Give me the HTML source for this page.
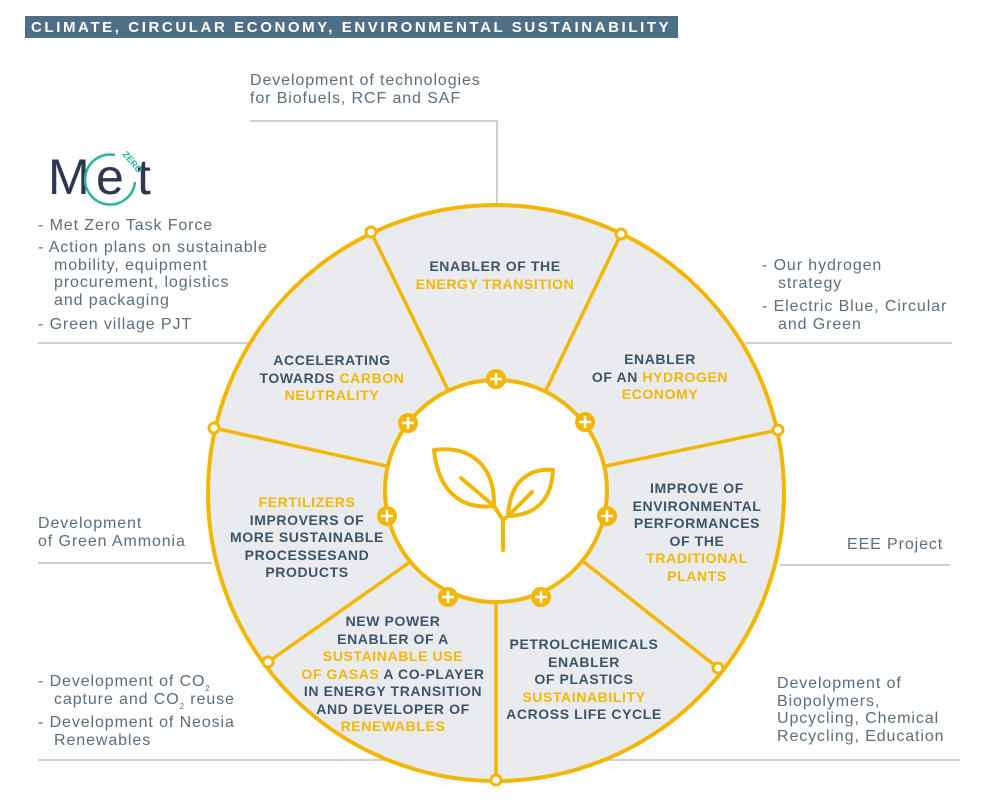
<!DOCTYPE html>
<html><head><meta charset="utf-8"><style>
body{margin:0;width:1000px;height:801px;background:#fff;overflow:hidden;position:relative;font-family:"Liberation Sans",sans-serif}
.t{position:absolute;color:#5a6e7f;font-size:16px;letter-spacing:0.9px;line-height:17.5px;white-space:nowrap}
.b{position:absolute;text-align:center;font-weight:bold;font-size:14px;letter-spacing:0.6px;line-height:17.5px;color:#3d5468;white-space:nowrap}
.y{color:#f2b705}
.s{font-size:8px;position:relative;top:5px;line-height:0}
</style></head><body>
<svg width="1000" height="801" style="position:absolute;left:0;top:0">
<rect x="25" y="16" width="653" height="22" fill="#4f6f87"/>
<g stroke="#b9c1c8" stroke-width="1.5" fill="none">
<polyline points="250,121 497,121 497,206"/>
<line x1="38" y1="343" x2="260" y2="343"/>
<line x1="745" y1="343" x2="952" y2="343"/>
<line x1="38" y1="563" x2="212" y2="563"/>
<line x1="780" y1="565" x2="950" y2="565"/>
<line x1="38" y1="760" x2="960" y2="760"/>
</g>
<circle cx="496" cy="493" r="288" fill="#e9ebee" stroke="#f2b705" stroke-width="4"/>
<g stroke="#f2b705" stroke-width="3.5">
<line x1="371" y1="232" x2="448" y2="390"/>
<line x1="621" y1="234" x2="546" y2="390"/>
<line x1="214" y1="428" x2="386" y2="466"/>
<line x1="778" y1="430" x2="606" y2="466"/>
<line x1="268" y1="662" x2="410" y2="562"/>
<line x1="718" y1="668" x2="584" y2="562"/>
<line x1="496" y1="780" x2="496" y2="602"/>
</g>
<circle cx="496" cy="491" r="111" fill="#fff" stroke="#f2b705" stroke-width="4"/>
<g fill="#fff" stroke="#f2b705" stroke-width="3">
<circle cx="371" cy="232" r="5"/><circle cx="621" cy="234" r="5"/><circle cx="214" cy="428" r="5"/><circle cx="778" cy="430" r="5"/><circle cx="268" cy="662" r="5"/><circle cx="718" cy="668" r="5"/><circle cx="496" cy="780" r="5"/>
</g>
<g>
<g fill="#f2b705"><circle cx="496" cy="379" r="10"/><circle cx="408" cy="423" r="10"/><circle cx="585" cy="422" r="10"/><circle cx="387" cy="516" r="10"/><circle cx="607" cy="516" r="10"/><circle cx="448" cy="597" r="10"/><circle cx="541" cy="597" r="10"/></g>
<g stroke="#fff" stroke-width="2.5">
<path d="M490 379h12M496 373v12M402 423h12M408 417v12M579 422h12M585 416v12M381 516h12M387 510v12M601 516h12M607 510v12M442 597h12M448 591v12M535 597h12M541 591v12"/>
</g></g>
<g fill="none" stroke="#f2b705" stroke-width="4" stroke-linecap="round" stroke-linejoin="round">
<path d="M434 450 C470 445 495 465 494 506 C460 510 438 490 434 450Z"/>
<path d="M461 478 L494 506"/>
<path d="M553 470 C530 468 510 480 508 516 C540 515 552 495 553 470Z"/>
<path d="M532 492 L508 516"/>
<path d="M494 506 L503 520 L503 550"/>
<path d="M508 516 L503 520"/>
</g>
<text x="48" y="194" font-family="Liberation Sans" font-size="50" fill="#2f3650">M</text>
<text x="96" y="194" font-family="Liberation Sans" font-size="50" fill="#2f3650">e</text>
<text x="137" y="194" font-family="Liberation Sans" font-size="50" fill="#2f3650">t</text>
<path d="M115 155 A25 25 0 1 0 135 182" fill="none" stroke="#2bb59a" stroke-width="2.5"/>
<text x="114" y="160" font-family="Liberation Sans" font-size="9" font-weight="bold" fill="#2bb59a" transform="rotate(50 124 166)">ZERO</text>
</svg>
<div style="position:absolute;left:31px;top:17px;color:#fff;font-weight:bold;font-size:15px;letter-spacing:2.6px;line-height:21px;white-space:nowrap">CLIMATE, CIRCULAR ECONOMY, ENVIRONMENTAL SUSTAINABILITY</div>
<div class="t" style="left:250px;top:72px">Development of technologies<br>for Biofuels, RCF and SAF</div>
<div class="t" style="left:38px;top:217px">- Met Zero Task Force</div>
<div class="t" style="left:38px;top:239px">- Action plans on sustainable<br>&nbsp;&nbsp;&nbsp;mobility, equipment<br>&nbsp;&nbsp;&nbsp;procurement, logistics<br>&nbsp;&nbsp;&nbsp;and packaging</div>
<div class="t" style="left:38px;top:316px">- Green village PJT</div>
<div class="t" style="left:762px;top:257px">- Our hydrogen<br>&nbsp;&nbsp;&nbsp;strategy</div>
<div class="t" style="left:762px;top:298px">- Electric Blue, Circular<br>&nbsp;&nbsp;&nbsp;and Green</div>
<div class="t" style="left:38px;top:515px">Development<br>of Green Ammonia</div>
<div class="t" style="left:847px;top:536px">EEE Project</div>
<div class="t" style="left:38px;top:673px">- Development of CO<span class="s">2</span><br>&nbsp;&nbsp;&nbsp;capture and CO<span class="s">2</span> reuse</div>
<div class="t" style="left:38px;top:714px">- Development of Neosia<br>&nbsp;&nbsp;&nbsp;Renewables</div>
<div class="t" style="left:777px;top:675px">Development of<br>Biopolymers,<br>Upcycling, Chemical<br>Recycling, Education</div>
<div class="b" style="left:395px;top:258px;width:200px">ENABLER OF THE<br><span class="y">ENERGY TRANSITION</span></div>
<div class="b" style="left:232px;top:352px;width:200px">ACCELERATING<br>TOWARDS <span class="y">CARBON</span><br><span class="y">NEUTRALITY</span></div>
<div class="b" style="left:560px;top:351px;width:200px">ENABLER<br>OF AN <span class="y">HYDROGEN</span><br><span class="y">ECONOMY</span></div>
<div class="b" style="left:597px;top:480px;width:200px">IMPROVE OF<br>ENVIRONMENTAL<br>PERFORMANCES<br>OF THE<br><span class="y">TRADITIONAL</span><br><span class="y">PLANTS</span></div>
<div class="b" style="left:212px;top:494px;width:190px"><span class="y">FERTILIZERS</span><br>IMPROVERS OF<br>MORE SUSTAINABLE<br>PROCESSESAND<br>PRODUCTS</div>
<div class="b" style="left:288px;top:613px;width:210px">NEW POWER<br>ENABLER OF A<br><span class="y">SUSTAINABLE USE</span><br><span class="y">OF GASAS</span> A CO-PLAYER<br>IN ENERGY TRANSITION<br>AND DEVELOPER OF<br><span class="y">RENEWABLES</span></div>
<div class="b" style="left:484px;top:636px;width:200px">PETROLCHEMICALS<br>ENABLER<br>OF PLASTICS<br><span class="y">SUSTAINABILITY</span><br>ACROSS LIFE CYCLE</div>
</body></html>
